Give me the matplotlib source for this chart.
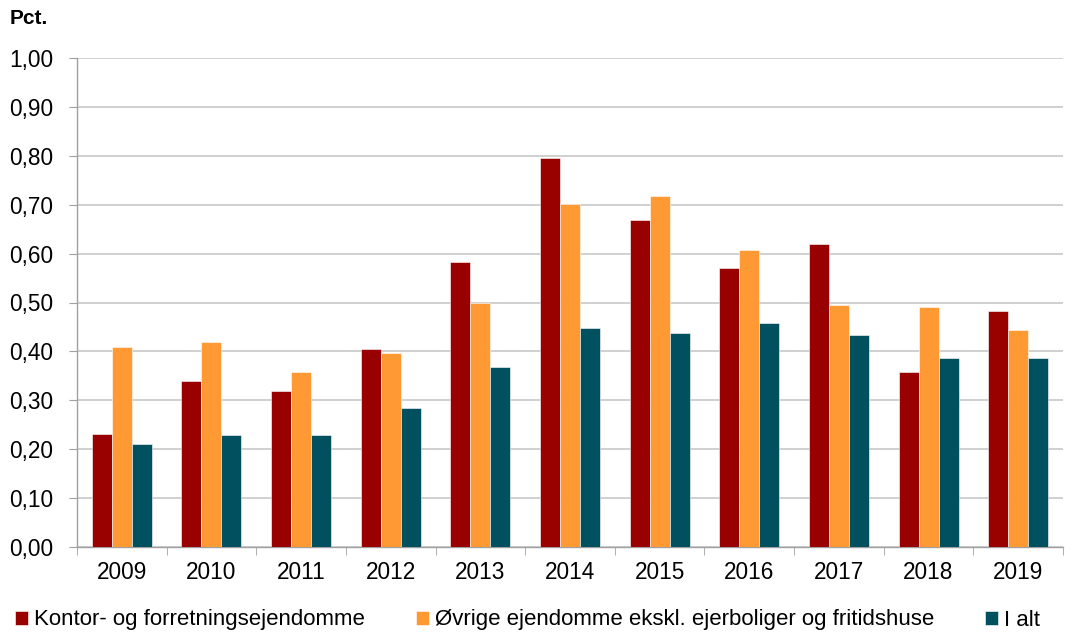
import matplotlib
matplotlib.use("Agg")
import matplotlib.pyplot as plt
import numpy as np
from matplotlib.ticker import FixedLocator, FuncFormatter

plt.rcParams['font.family'] = ['Liberation Sans', 'DejaVu Sans']

years = ["2009", "2010", "2011", "2012", "2013", "2014", "2015", "2016", "2017", "2018", "2019"]
kontor = [0.232, 0.339, 0.319, 0.405, 0.582, 0.795, 0.668, 0.571, 0.620, 0.357, 0.483]
ovrige = [0.409, 0.419, 0.358, 0.397, 0.500, 0.701, 0.718, 0.607, 0.495, 0.491, 0.444]
i_alt = [0.210, 0.230, 0.230, 0.284, 0.368, 0.448, 0.437, 0.459, 0.433, 0.386, 0.386]

series_names = ["Kontor- og forretningsejendomme",
                "Øvrige ejendomme ekskl. ejerboliger og fritidshuse",
                "I alt"]
colors = ["#990000", "#FF9933", "#00505F"]

fig = plt.figure(figsize=(10.73, 6.32), dpi=100)
ax = fig.add_axes([77 / 1073, 85 / 632, 986 / 1073, 489 / 632])

x = np.arange(len(years))
w = 0.223
handles = []
for i, (vals, c, name) in enumerate(zip([kontor, ovrige, i_alt], colors, series_names)):
    b = ax.bar(x + (i - 1) * w, vals, width=w, color=c, label=name,
               edgecolor="#ffffff", linewidth=0.4, zorder=3)
    handles.append(b)

ax.set_xlim(-0.5, len(years) - 0.5)
ax.set_ylim(0, 1.0)
ax.yaxis.set_major_locator(FixedLocator(np.arange(0, 1.01, 0.1)))
ax.yaxis.set_major_formatter(FuncFormatter(lambda v, p: f"{v:.2f}".replace(".", ",")))
ax.grid(axis="y", color="#c8c8c8", linewidth=1.2, zorder=0)
ax.set_axisbelow(True)

ax.set_xticks(x)
ax.set_xticklabels(years)
ax.set_xticks(np.arange(-0.5, len(years)), minor=True)
ax.tick_params(axis="x", which="major", length=0, labelsize=16.3, pad=10)
ax.tick_params(axis="x", which="minor", length=6, color="#a0a0a0", direction="out")
ax.tick_params(axis="y", length=6, color="#a0a0a0", labelsize=16.3, pad=11)

for s in ["top", "right"]:
    ax.spines[s].set_visible(False)
for s in ["left", "bottom"]:
    ax.spines[s].set_color("#a0a0a0")
    ax.spines[s].set_linewidth(1.0)

fig.text(10 / 1073, 1 - 18 / 632, "Pct.", fontsize=15, fontweight="bold", va="center", ha="left")

leg = fig.legend(handles=handles, labels=series_names, ncol=3,
                 loc="center left", bbox_to_anchor=(15 / 1073, 1 - 620 / 632),
                 frameon=False, fontsize=16, handlelength=0.6, handleheight=0.6,
                 handletextpad=0.25, columnspacing=2.3, borderpad=0, borderaxespad=0)

fig.savefig("out.png", dpi=100)
